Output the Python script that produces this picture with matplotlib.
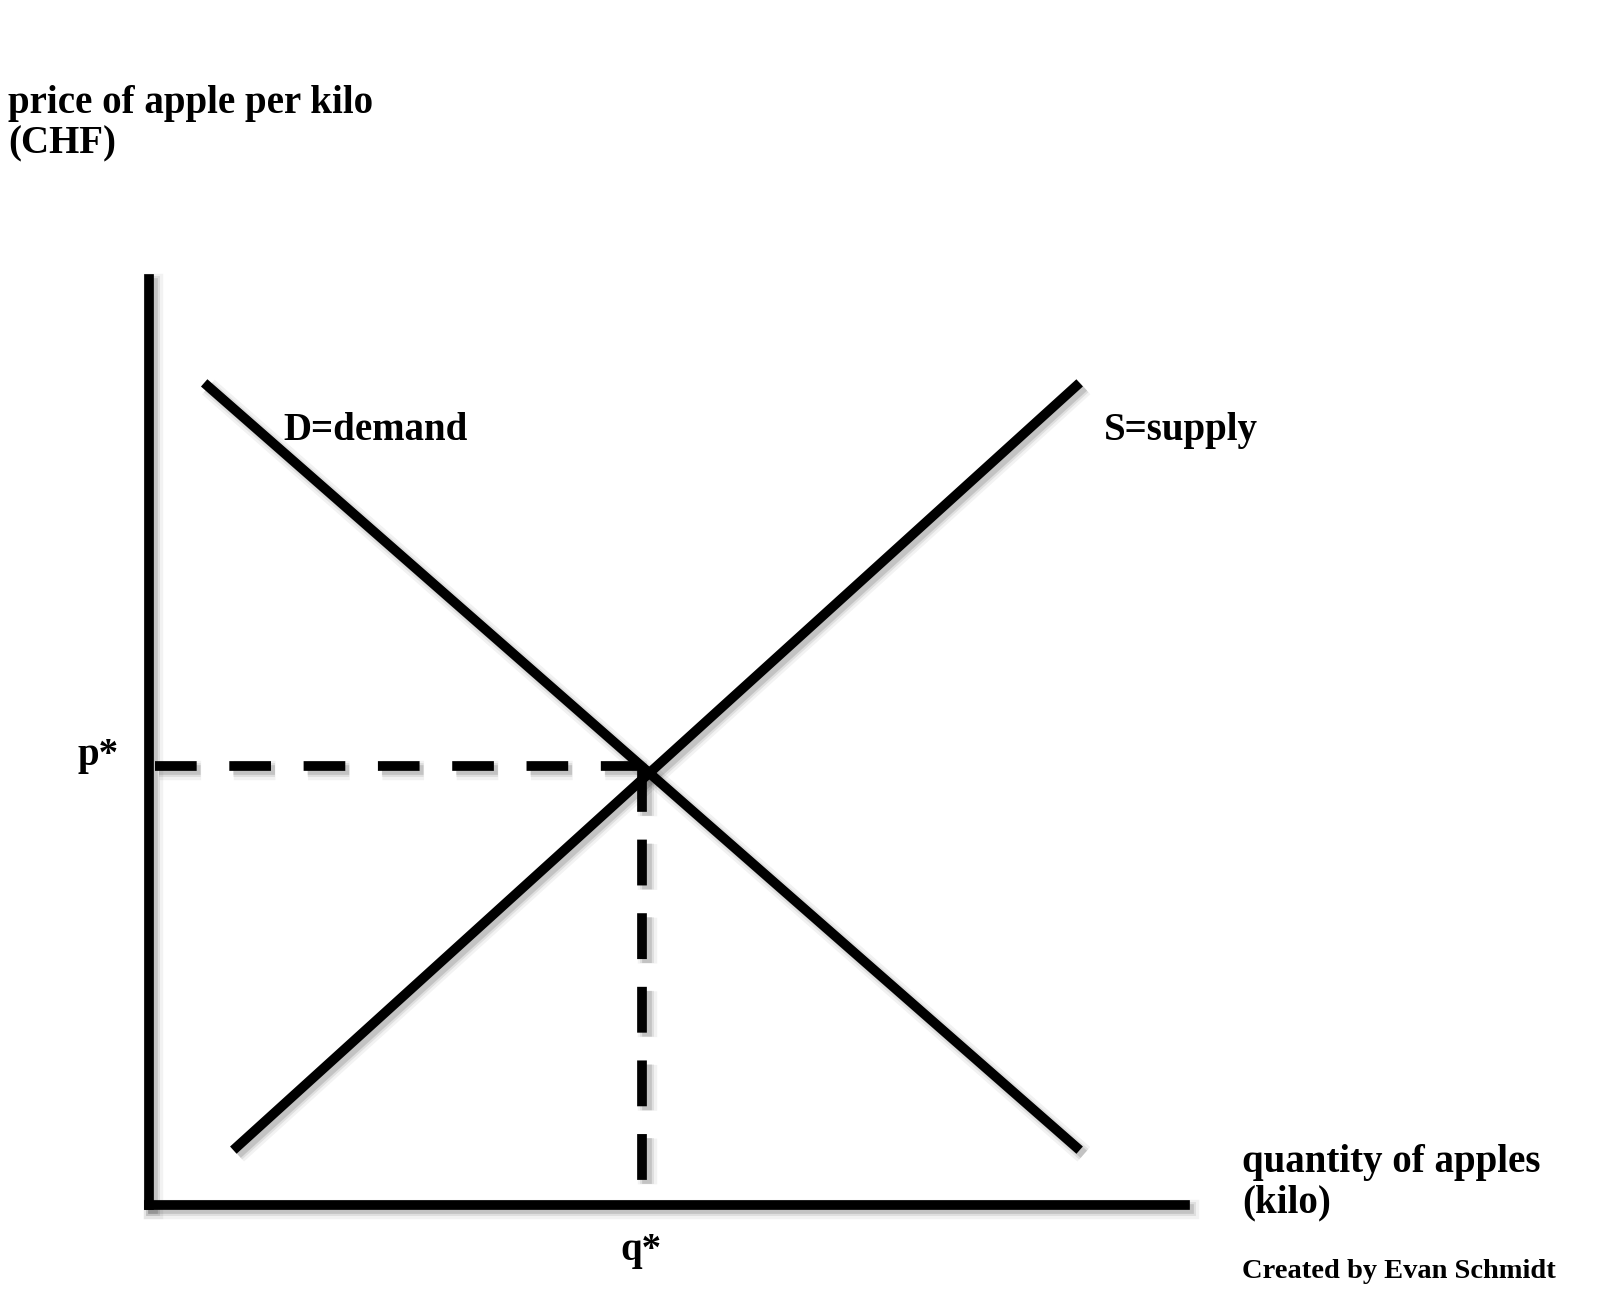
import matplotlib
matplotlib.use("Agg")
import matplotlib.pyplot as plt
import matplotlib.patheffects as pe

# supply / demand sketch values (quantity, price) in arbitrary units
demand_q = [0.53, 8.94]
demand_p = [8.84, 0.59]
supply_q = [0.81, 8.94]
supply_p = [0.59, 8.84]
eq_q = 4.74
eq_p = 4.72

W, H = 1600, 1289

plt.rcParams['font.family'] = ['Liberation Serif', 'DejaVu Serif']
plt.rcParams['font.weight'] = 'bold'
plt.rcParams['lines.scale_dashes'] = False

fig = plt.figure(figsize=(W / 100, H / 100), dpi=100)
fig.patch.set_facecolor('white')


def fpos(x, y):
    # pixel position in the picture -> figure fraction
    return x / W, 1 - y / H


left, right, top, bottom = 149, 1185, 279, 1205
ax = fig.add_axes([left / W, 1 - bottom / H, (right - left) / W, (bottom - top) / H])
ax.set_xlim(0, 10 * (right - left) / 1041)
ax.set_ylim(0, 10 * (bottom - top) / 930)
ax.set_xticks([])
ax.set_yticks([])
ax.patch.set_alpha(0)

shadow = [
    pe.SimpleLineShadow(offset=(3, -3), shadow_color='black', alpha=0.05, linewidth=14),
    pe.SimpleLineShadow(offset=(3, -3), shadow_color='black', alpha=0.08, linewidth=10),
    pe.SimpleLineShadow(offset=(3, -3), shadow_color='black', alpha=0.12, linewidth=7),
    pe.Normal(),
]

lw = 7
for side in ['top', 'right']:
    ax.spines[side].set_visible(False)
for side in ['left', 'bottom']:
    ax.spines[side].set_linewidth(lw)
    ax.spines[side].set_capstyle('projecting')
    ax.spines[side].set_path_effects(shadow)

ax.plot(demand_q, demand_p, color='black', lw=lw, solid_capstyle='butt', path_effects=shadow)
ax.plot(supply_q, supply_p, color='black', lw=lw, solid_capstyle='butt', path_effects=shadow)

# equilibrium guides
ax.plot([0.06, eq_q], [eq_p, eq_p], color='black', lw=lw, dashes=(30, 23.5),
        dash_capstyle='butt', path_effects=shadow)
ax.plot([eq_q, eq_q], [eq_p, 0.25], color='black', lw=lw, dashes=(33, 20),
        dash_capstyle='butt', path_effects=shadow)

big = 28
fig.text(*fpos(8, 113), 'price of apple per kilo', fontsize=big, va='baseline')
fig.text(*fpos(8, 153), '(CHF)', fontsize=big, va='baseline')
fig.text(*fpos(283, 440), 'D=demand', fontsize=big, va='baseline')
fig.text(*fpos(1104, 440), 'S=supply', fontsize=big, va='baseline')
fig.text(*fpos(78, 765), 'p*', fontsize=big, va='baseline')
fig.text(*fpos(620, 1260), 'q*', fontsize=big, va='baseline')
fig.text(*fpos(1242, 1172), 'quantity of apples', fontsize=big, va='baseline')
fig.text(*fpos(1242, 1212), '(kilo)', fontsize=big, va='baseline')
fig.text(*fpos(1242, 1278), 'Created by Evan Schmidt', fontsize=20.5, va='baseline')

fig.savefig('out.png', dpi=100, facecolor='white')
